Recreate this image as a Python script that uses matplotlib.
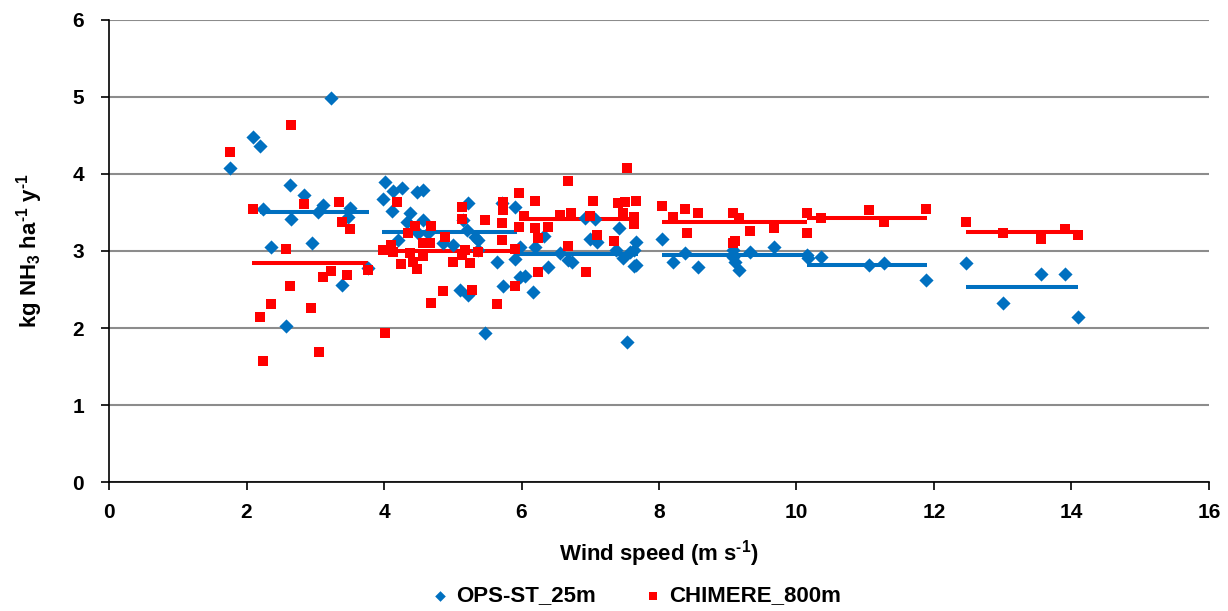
import matplotlib
matplotlib.use("Agg")
import matplotlib.pyplot as plt

# OPS-ST_25m (blue diamonds)
ops_x = [1.76, 2.10, 2.20, 3.23, 2.63, 2.84, 2.24, 2.65, 3.11, 3.04, 3.51, 3.48, 2.36, 2.95, 3.77, 3.39, 2.58,
         4.02, 3.99, 4.13, 4.26, 4.12, 4.48, 4.57, 4.38, 4.34, 4.57, 4.20, 4.50, 4.64, 4.86, 5.01, 5.15, 5.21,
         5.22, 5.33, 5.37, 5.37, 5.11, 5.22, 5.47, 5.65, 5.72, 5.91, 5.73, 5.91, 5.98,
         5.98, 6.05, 6.17, 6.20, 6.32, 6.39, 6.56, 6.67, 6.74, 6.93, 7.07, 6.99, 7.10, 7.37, 7.42, 7.48, 7.54,
         7.58, 7.63, 7.66, 7.63, 7.66,
         8.05, 8.21, 8.38, 8.57, 9.08, 9.08, 9.11, 9.16, 9.33, 9.67, 10.16, 10.17, 10.35,
         11.06, 11.27, 11.89, 12.46, 13.00, 13.55, 13.90, 14.10]
ops_y = [4.08, 4.48, 4.36, 4.99, 3.86, 3.73, 3.55, 3.42, 3.60, 3.51, 3.56, 3.44, 3.05, 3.10, 2.78, 2.56, 2.03,
         3.90, 3.68, 3.78, 3.82, 3.52, 3.77, 3.79, 3.49, 3.38, 3.40, 3.14, 3.23, 3.23, 3.10, 3.08, 3.40, 3.27,
         3.62, 3.18, 3.14, 3.01, 2.49, 2.43, 1.94, 2.86, 3.62, 3.57, 2.55, 2.89, 2.66,
         3.05, 2.68, 2.47, 3.05, 3.20, 2.79, 2.97, 2.88, 2.86, 3.43, 3.42, 3.16, 3.12, 3.01, 3.30, 2.91, 1.82,
         2.99, 3.01, 3.12, 2.80, 2.82,
         3.16, 2.86, 2.97, 2.79, 3.01, 2.92, 2.86, 2.75, 2.99, 3.05, 2.95, 2.91, 2.92,
         2.82, 2.84, 2.62, 2.84, 2.32, 2.70, 2.70, 2.14]

# CHIMERE_800m (red squares)
chim_x = [1.76, 2.65, 2.10, 2.84, 3.35, 3.39, 3.51, 2.58, 3.77, 3.23, 3.11, 3.46, 2.63, 2.35, 2.20, 2.94, 2.24, 3.06,
          4.02, 3.99, 4.10, 4.13, 4.19, 4.25, 4.38, 4.35, 4.45, 4.42, 4.48, 4.57, 4.56, 4.67, 4.69, 4.89, 5.01,
          4.86, 4.69, 5.14, 5.14, 5.18, 5.14, 5.25, 5.28, 5.37, 5.47, 5.65, 5.73, 5.73, 5.72, 5.72, 5.91, 5.91,
          5.97, 6.03, 5.97, 6.20, 6.20, 6.24, 6.24, 6.38, 6.56, 6.67, 6.72, 6.67, 6.94, 6.99, 7.04, 7.10, 7.35,
          7.41, 7.51, 7.54, 7.48, 7.63, 7.63, 7.66,
          8.05, 8.21, 8.38, 8.40, 8.57, 9.08, 9.16, 9.11, 9.07, 9.33, 9.67, 10.16, 10.16,
          10.35, 11.06, 11.27, 11.89, 12.46, 13.00, 13.55, 13.90, 14.10]
chim_y = [4.29, 4.64, 3.55, 3.61, 3.64, 3.38, 3.29, 3.03, 2.75, 2.74, 2.66, 2.69, 2.55, 2.31, 2.14, 2.26, 1.57, 1.69,
          1.93, 3.01, 3.08, 2.99, 3.64, 2.83, 2.97, 3.23, 3.32, 2.86, 2.77, 3.10, 2.94, 3.10, 3.32, 3.18, 2.86,
          2.48, 2.32, 3.57, 3.41, 3.01, 2.95, 2.84, 2.49, 2.99, 3.40, 2.31, 3.64, 3.53, 3.36, 3.14, 3.03, 2.54,
          3.75, 3.45, 3.31, 3.65, 3.30, 3.17, 2.73, 3.31, 3.47, 3.91, 3.49, 3.06, 2.73, 3.45, 3.65, 3.21, 3.13,
          3.62, 3.64, 4.08, 3.49, 3.44, 3.35, 3.65,
          3.58, 3.44, 3.54, 3.23, 3.49, 3.49, 3.43, 3.13, 3.11, 3.26, 3.30, 3.49, 3.23,
          3.43, 3.53, 3.38, 3.55, 3.38, 3.23, 3.16, 3.29, 3.21]

# class-average segments
ops_seg_start = [2.20, 3.97, 5.94, 8.05, 10.16, 12.46]
ops_seg_end = [3.78, 5.94, 7.69, 10.16, 11.90, 14.10]
ops_seg_val = [3.51, 3.25, 2.96, 2.95, 2.82, 2.53]
chim_seg_start = [2.08, 3.97, 5.98, 8.05, 10.16, 12.46]
chim_seg_end = [3.77, 5.95, 7.63, 10.16, 11.90, 14.10]
chim_seg_val = [2.84, 3.00, 3.42, 3.38, 3.43, 3.25]

BLUE = '#0070C0'
RED = '#FF0000'

plt.rcParams['font.family'] = ['Liberation Sans', 'DejaVu Sans']
plt.rcParams['font.weight'] = 'bold'
plt.rcParams['mathtext.fontset'] = 'custom'
plt.rcParams['mathtext.default'] = 'bf'
plt.rcParams['mathtext.bf'] = 'Liberation Sans:bold'
plt.rcParams['mathtext.rm'] = 'Liberation Sans:bold'

fig = plt.figure(figsize=(12.28, 6.11), dpi=100)
ax = fig.add_axes([0.0888, 0.2111, 0.8957, 0.7562])

ax.hlines(ops_seg_val, ops_seg_start, ops_seg_end, color=BLUE, linewidth=2.9, zorder=2)
ax.hlines(chim_seg_val, chim_seg_start, chim_seg_end, color=RED, linewidth=2.9, zorder=2)

ax.scatter(ops_x, ops_y, marker='D', s=52, color=BLUE, linewidths=0, zorder=3, label='OPS-ST_25m')
ax.scatter(chim_x, chim_y, marker='s', s=52, color=RED, linewidths=0, zorder=4, label='CHIMERE_800m')

ax.set_xlim(0, 16)
ax.set_ylim(0, 6)
ax.set_xticks(range(0, 17, 2))
ax.set_yticks(range(0, 7))
ax.grid(axis='y', color='#8C8C8C', linewidth=1.5)
ax.set_axisbelow(True)
for s in ['top', 'right']:
    ax.spines[s].set_visible(False)
ax.spines['left'].set_linewidth(1.2)
ax.spines['bottom'].set_linewidth(1.2)
ax.tick_params(axis='both', labelsize=15, length=6, width=1.2, direction='out')
ax.tick_params(axis='x', pad=9)
ax.tick_params(axis='y', pad=12)

ax.set_xlabel(r'Wind speed (m s$^{\text{-1}}$)', fontsize=16, fontweight='bold', labelpad=12)
ax.set_ylabel(r'kg NH$_3$ ha$^{\text{-1}}$ y$^{\text{-1}}$', fontsize=16, fontweight='bold', labelpad=20)

fig.legend(loc='center', bbox_to_anchor=(0.518, 0.0245), ncol=2, frameon=False,
           fontsize=16, handlelength=0.8, handletextpad=0.3, columnspacing=2.2, markerscale=0.75)

fig.savefig('out.png', dpi=100)
